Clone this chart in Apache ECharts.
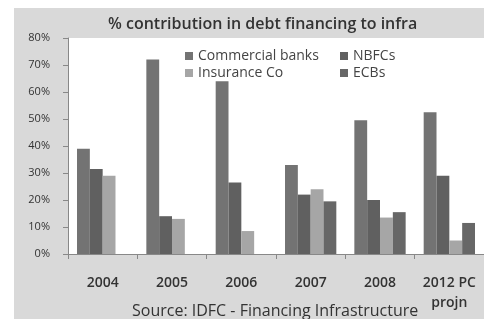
<!DOCTYPE html>
<html>
<head>
<meta charset="utf-8">
<script src="https://cdn.jsdelivr.net/npm/echarts@6/dist/echarts.min.js"></script>
<style>
  html, body { margin: 0; padding: 0; background: #fff; }
  #chart { width: 484px; height: 319px; }
</style>
</head>
<body>
<div id="chart"></div>
<script>
  // values, % share per year
  var years = ['2004', '2005', '2006', '2007', '2008', '2012 PC\nprojn'];
  var commercialBanks = [39, 72, 64, 33, 49.5, 52.5];
  var nbfcs = [31.5, 14, 26.5, 22, 20, 29];
  var insuranceCo = [29, 13, 8.5, 24, 13.5, 5];
  var ecbs = [0, 0, 0, 19.5, 15.5, 11.5];
  var yTicks = [0, 10, 20, 30, 40, 50, 60, 70, 80];

  var font = '"Open Sans", "Noto Sans", sans-serif';
  var chart = echarts.init(document.getElementById('chart'));

  function bar(name, data, color) {
    return {
      name: name,
      type: 'bar',
      data: data,
      barGap: 0,
      barCategoryGap: '26%',
      itemStyle: { color: color },
      emphasis: { disabled: true }
    };
  }

  chart.setOption({
    animation: false,
    backgroundColor: '#fff',
    graphic: [
      {
        type: 'rect', z: -10, silent: true,
        shape: { x: 14, y: 8, width: 484, height: 320 },
        style: { fill: '#d9d9d9' }
      },
      {
        type: 'text', left: 132, top: 303,
        style: {
          text: 'Source: IDFC - Financing Infrastructure',
          font: '16px ' + font, fill: '#333'
        }
      }
    ],
    title: {
      text: '% contribution in debt financing to infra',
      left: 103, top: 11,
      textStyle: { fontFamily: font, fontSize: 16, fontWeight: 600, color: '#333' }
    },
    legend: [
      {
        data: ['Commercial banks', 'Insurance Co'],
        orient: 'vertical', left: 180, top: 44, itemGap: 3,
        itemWidth: 8, itemHeight: 8, icon: 'rect',
        textStyle: { fontFamily: font, fontSize: 14, color: '#444' }
      },
      {
        data: ['NBFCs', 'ECBs'],
        orient: 'vertical', left: 335, top: 44, itemGap: 3,
        itemWidth: 8, itemHeight: 8, icon: 'rect',
        textStyle: { fontFamily: font, fontSize: 14, color: '#444' }
      }
    ],
    grid: {
      left: 68, top: 38, width: 420, height: 216,
      show: true, backgroundColor: '#fff', borderWidth: 0
    },
    xAxis: {
      type: 'category',
      data: years,
      axisLine: { lineStyle: { color: '#888' } },
      axisTick: { show: true, length: 5, lineStyle: { color: '#888' } },
      axisLabel: {
        margin: 19, lineHeight: 20, interval: 0,
        fontFamily: font, fontSize: 14, fontWeight: 600, color: '#333'
      }
    },
    yAxis: {
      type: 'value',
      min: yTicks[0], max: yTicks[yTicks.length - 1], interval: 10,
      axisLine: { show: true, lineStyle: { color: '#888' } },
      axisTick: { show: true, length: 5, lineStyle: { color: '#888' } },
      splitLine: { show: false },
      axisLabel: {
        margin: 18, fontFamily: font, fontSize: 11, color: '#333',
        formatter: function (v) { return v + '%'; }
      }
    },
    series: [
      bar('Commercial banks', commercialBanks, '#737373'),
      bar('NBFCs', nbfcs, '#606060'),
      bar('Insurance Co', insuranceCo, '#a6a6a6'),
      bar('ECBs', ecbs, '#676767')
    ]
  });
</script>
</body>
</html>
